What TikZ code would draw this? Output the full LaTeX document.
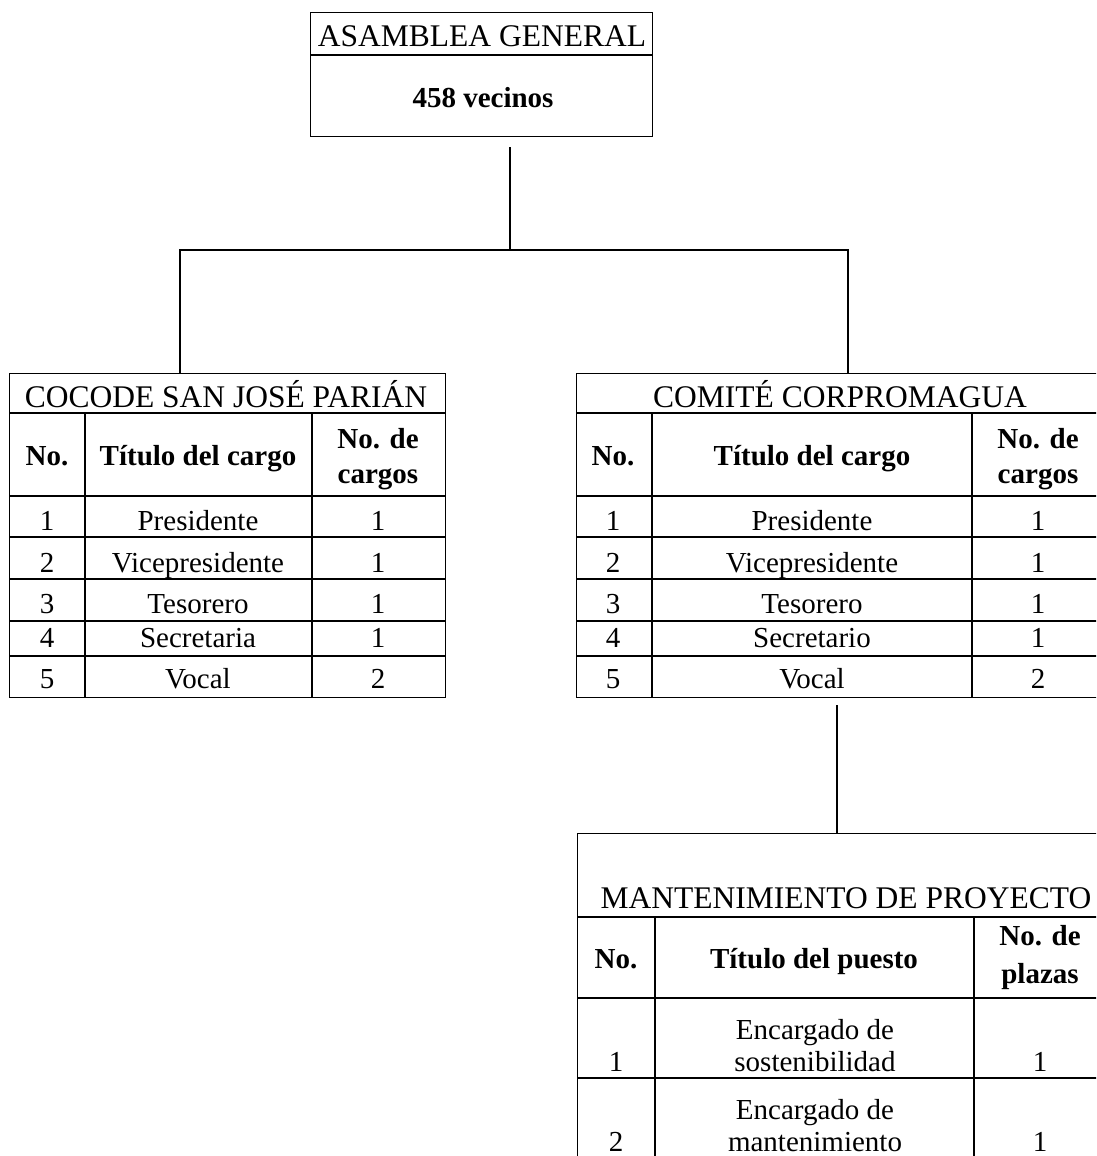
\documentclass[tikz,border=0pt]{standalone}
\usepackage{fontspec}
\setmainfont{Liberation Serif}
\begin{document}
\begin{tikzpicture}[x=1pt,y=-1pt,line width=1.4pt,
  every node/.style={inner sep=0pt,font=\fontsize{29}{34}\selectfont},
  txt/.style={anchor=base},
  ttl/.style={anchor=base,font=\fontsize{31.5}{36}\selectfont},
  hdr/.style={anchor=base,font=\fontsize{29}{34}\selectfont\bfseries},
  frame/.style={draw,anchor=north west,line width=1.4pt},
  link/.style={line width=1.4pt}]
\useasboundingbox (0,0) rectangle (1096,1156);
\clip (0,0) rectangle (1096,1156);

% ---------- Asamblea general ----------
\node[frame,minimum width=342pt,minimum height=124pt] (asamblea) at (310,12) {};
\draw (310,55) -- (652,55);
\node[ttl] (ag) at (482,47) {ASAMBLEA GENERAL};
\node[hdr] (vec) at (483,107) {458 vecinos};

% ---------- COCODE ----------
\node[frame,minimum width=436pt,minimum height=324pt] (cocode) at (9,373) {};
\foreach \yy in {413,496,537,579,621,656} \draw (9,\yy) -- (445,\yy);
\foreach \xx in {85,312} \draw (\xx,413) -- (\xx,697);
\node[ttl] (cocode-t) at (226,407) {COCODE SAN JOSÉ PARIÁN};
\node[hdr] (cocode-h1) at (47,465) {No.};
\node[hdr] (cocode-h2) at (198,465) {Título del cargo};
\node[hdr] (cocode-h3a) at (378,448) {No. de};
\node[hdr] (cocode-h3b) at (378,483) {cargos};
\foreach \yy/\n/\t/\c in {530/1/Presidente/1,572/2/Vicepresidente/1,613/3/Tesorero/1,647/4/Secretaria/1,688/5/Vocal/2}{
  \node[txt] (cocode-n\n) at (47,\yy) {\n};
  \node[txt] (cocode-t\n) at (198,\yy) {\t};
  \node[txt] (cocode-c\n) at (378,\yy) {\c};
}

% ---------- Comité ----------
\node[frame,minimum width=526pt,minimum height=324pt] (comite) at (576,373) {};
\foreach \yy in {413,496,537,579,621,656} \draw (576,\yy) -- (1102,\yy);
\foreach \xx in {652,972} \draw (\xx,413) -- (\xx,697);
\node[ttl] (comite-t) at (840,407) {COMITÉ CORPROMAGUA};
\node[hdr] (comite-h1) at (613,465) {No.};
\node[hdr] (comite-h2) at (812,465) {Título del cargo};
\node[hdr] (comite-h3a) at (1038,448) {No. de};
\node[hdr] (comite-h3b) at (1038,483) {cargos};
\foreach \yy/\n/\t/\c in {530/1/Presidente/1,572/2/Vicepresidente/1,613/3/Tesorero/1,647/4/Secretario/1,688/5/Vocal/2}{
  \node[txt] (comite-n\n) at (613,\yy) {\n};
  \node[txt] (comite-t\n) at (812,\yy) {\t};
  \node[txt] (comite-c\n) at (1038,\yy) {\c};
}

% ---------- Mantenimiento ----------
\node[frame,minimum width=531pt,minimum height=330pt] (mant) at (577,833) {};
\foreach \yy in {917,998,1078} \draw (577,\yy) -- (1108,\yy);
\foreach \xx in {655,974} \draw (\xx,917) -- (\xx,1163);
\node[ttl] (mant-t) at (846,908) {MANTENIMIENTO DE PROYECTO};
\node[hdr] (mant-h1) at (616,968) {No.};
\node[hdr] (mant-h2) at (814,968) {Título del puesto};
\node[hdr] (mant-h3a) at (1040,945) {No. de};
\node[hdr] (mant-h3b) at (1040,983) {plazas};
\node[txt] (mant-n1) at (616,1071) {1};
\node[txt] (mant-t1a) at (815,1039) {Encargado de};
\node[txt] (mant-t1b) at (815,1071) {sostenibilidad};
\node[txt] (mant-c1) at (1040,1071) {1};
\node[txt] (mant-n2) at (616,1151) {2};
\node[txt] (mant-t2a) at (815,1119) {Encargado de};
\node[txt] (mant-t2b) at (815,1151) {mantenimiento};
\node[txt] (mant-c2) at (1040,1151) {1};

% ---------- connectors ----------
\coordinate (asm-out) at (510,147);
\coordinate (com-out) at (837,705);
\draw[link] (asm-out) -- (510,250) -| ([xshift=171pt]cocode.north west);
\draw[link] (510,250) -| ([xshift=272pt]comite.north west);
\draw[link] (com-out) -- ([xshift=260pt]mant.north west);
\end{tikzpicture}
\end{document}
